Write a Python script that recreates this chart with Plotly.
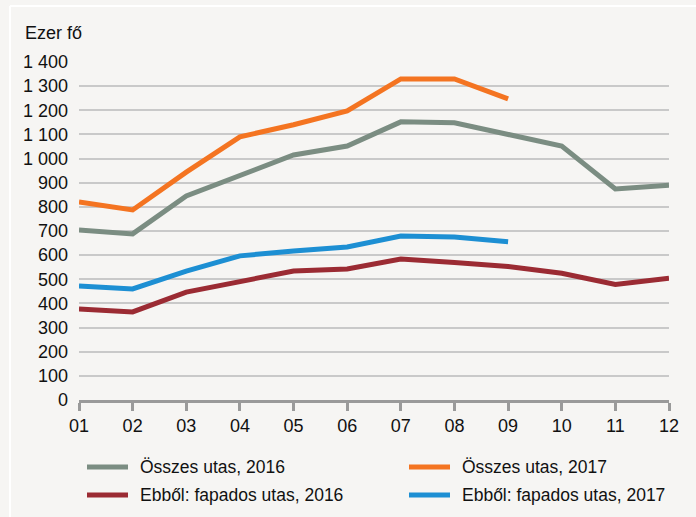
import plotly.graph_objects as go

months = ["01", "02", "03", "04", "05", "06", "07", "08", "09", "10", "11", "12"]
osszes_2016 = [704, 688, 845, 928, 1015, 1052, 1152, 1148, 1102, 1052, 874, 890]
osszes_2017 = [820, 787, 944, 1090, 1140, 1197, 1330, 1330, 1247]
fapados_2016 = [377, 365, 447, 493, 534, 543, 584, 570, 553, 525, 479, 504]
fapados_2017 = [472, 460, 534, 597, 617, 634, 679, 675, 655]
y_ticks = [0, 100, 200, 300, 400, 500, 600, 700, 800, 900, 1000, 1100, 1200, 1300, 1400]
y_ticktext = ["0", "100", "200", "300", "400", "500", "600", "700", "800", "900",
              "1 000", "1 100", "1 200", "1 300", "1 400"]

x_pos = list(range(len(months)))

fig = go.Figure()
series = [
    ("Összes utas, 2016", osszes_2016, "#7b8d82"),
    ("Összes utas, 2017", osszes_2017, "#f47421"),
    ("Ebből: fapados utas, 2016", fapados_2016, "#9b2b33"),
    ("Ebből: fapados utas, 2017", fapados_2017, "#1d8fd3"),
]
for name, vals, col in series:
    fig.add_trace(go.Scatter(
        x=x_pos[:len(vals)], y=vals, name=name, mode="lines",
        line=dict(color=col, width=5), showlegend=False,
    ))

W, H = 696, 517
PL, PT, PW, PH = 79, 62, 590, 338


def px(x):
    return (x - PL) / PW


def py(y):
    return (PT + PH - y) / PH


legend_pos = [(87, 467, 0), (409, 467, 1), (87, 495, 2), (409, 495, 3)]
for (lx, ly, i) in legend_pos:
    name, vals, col = series[i]
    fig.add_shape(type="line", xref="paper", yref="paper",
                  x0=px(lx), x1=px(lx + 41), y0=py(ly), y1=py(ly),
                  line=dict(color=col, width=5))
    fig.add_annotation(xref="paper", yref="paper",
                       x=px(lx + 51), y=py(ly),
                       text=name, showarrow=False, xanchor="left", yanchor="middle",
                       font=dict(size=17.5, color="#111111"))

fig.add_annotation(xref="paper", yref="paper", x=px(23), y=py(33),
                   text="Ezer fő", showarrow=False, xanchor="left", yanchor="middle",
                   font=dict(size=18, color="#111111"))

# white frame lines
fig.add_shape(type="line", xref="paper", yref="paper",
              x0=px(10), x1=px(700), y0=py(6), y1=py(6),
              line=dict(color="white", width=2))
fig.add_shape(type="line", xref="paper", yref="paper",
              x0=px(10), x1=px(10), y0=py(6), y1=py(520),
              line=dict(color="white", width=2))

fig.update_layout(
    width=W, height=H,
    margin=dict(l=PL, r=W - PL - PW, t=PT, b=H - PT - PH),
    paper_bgcolor="#f6f5f3", plot_bgcolor="#f6f5f3",
    font=dict(family="Liberation Sans, Arial, sans-serif", size=18, color="#111111"),
    xaxis=dict(
        range=[0, 11], tickvals=x_pos, ticktext=months,
        showgrid=False, zeroline=False,
        showline=True, linecolor="#9a9a9a", linewidth=2.5,
        ticks="outside", ticklen=8, tickwidth=2.5, tickcolor="#9a9a9a",
        tickfont=dict(size=18), fixedrange=True,
    ),
    yaxis=dict(
        range=[0, 1400], tickvals=y_ticks, ticktext=y_ticktext,
        showgrid=True, gridcolor="#c9c9c9", gridwidth=1.5,
        zeroline=False, showline=False, ticks="", ticklabelstandoff=10,
        tickfont=dict(size=18), fixedrange=True,
    ),
    showlegend=False,
)

fig.write_html(
    "out.html",
    config={"displayModeBar": False},
    post_script="document.body.style.margin='0';document.body.style.background='#f6f5f3';",
)
